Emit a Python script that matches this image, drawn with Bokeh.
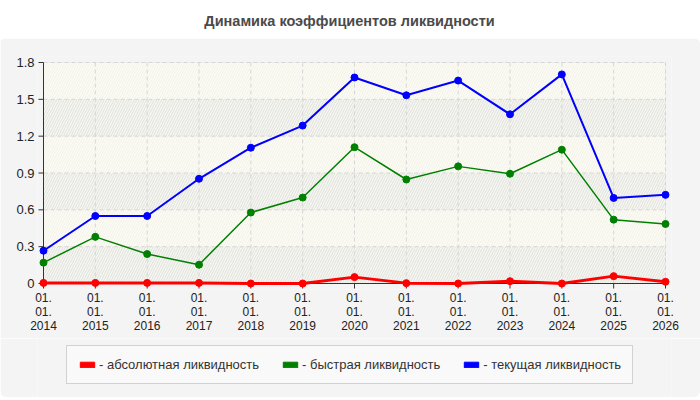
from bokeh.plotting import figure
from bokeh.layouts import column
from bokeh.models import (Range1d, FixedTicker, BoxAnnotation, Label, Legend,
                          LegendItem, ColumnDataSource)
from bokeh.embed import file_html
from bokeh.resources import INLINE

# ---------------- data ----------------
title_text = "Динамика коэффициентов ликвидности"
years = [2014, 2015, 2016, 2017, 2018, 2019, 2020, 2021, 2022, 2023, 2024, 2025, 2026]
x_labels = ["01.\n01.\n2014", "01.\n01.\n2015", "01.\n01.\n2016", "01.\n01.\n2017",
            "01.\n01.\n2018", "01.\n01.\n2019", "01.\n01.\n2020", "01.\n01.\n2021",
            "01.\n01.\n2022", "01.\n01.\n2023", "01.\n01.\n2024", "01.\n01.\n2025",
            "01.\n01.\n2026"]
y_ticks = [0.0, 0.3, 0.6, 0.9, 1.2, 1.5, 1.8]
y_labels = ["0", "0.3", "0.6", "0.9", "1.2", "1.5", "1.8"]

absolute_liq = [0.005, 0.005, 0.005, 0.005, 0.0, 0.0, 0.052, 0.003, 0.0, 0.019, 0.0, 0.06, 0.014]
quick_liq = [0.17, 0.38, 0.24, 0.153, 0.578, 0.70, 1.11, 0.847, 0.954, 0.894, 1.09, 0.52, 0.485]
current_liq = [0.267, 0.55, 0.55, 0.853, 1.106, 1.286, 1.678, 1.533, 1.653, 1.378, 1.703, 0.697, 0.722]

series_names = ["- абсолютная ликвидность", "- быстрая ликвидность", "- текущая ликвидность"]
series_colors = ["#ff0000", "#008000", "#0000ff"]

# ---------------- layout (px) ----------------
FONT = "Liberation Sans"
PANEL_BG = "#f4f4f4"
W = 700
TITLE_H = 38
MAIN_H = 300
LEG_H = 59
PLOT_L, PLOT_R, PLOT_T, PLOT_B = 43, 665, 24, 245   # inside main figure canvas
PAD = 6
TICK = 5
FRAME_X0 = PLOT_L - PAD   # figures in the column share this frame offset

# ---------------- title strip ----------------
tf = figure(width=W, height=TITLE_H, min_border=0, x_axis_location=None,
            y_axis_location=None, toolbar_location=None, output_backend="svg",
            outline_line_color=None, border_fill_color="white",
            background_fill_color="white")
tf.grid.visible = False
tf.add_layout(Label(x=349 - FRAME_X0, y=TITLE_H - 20, x_units="screen", y_units="screen",
                    text=title_text, text_align="center", text_baseline="middle",
                    text_font=FONT, text_font_size="14.5px", text_font_style="bold",
                    text_color="#4a4a4a"))

# ---------------- main chart ----------------
x_lo, x_hi = years[0], years[-1]
y_lo, y_hi = y_ticks[0], y_ticks[-1]
xpp = (x_hi - x_lo) / (PLOT_R - PLOT_L)
ypp = (y_hi - y_lo) / (PLOT_B - PLOT_T)

p = figure(frame_width=PLOT_R - PLOT_L + 2 * PAD, frame_height=PLOT_B - PLOT_T + 2 * PAD,
           min_border_left=PLOT_L - PAD, min_border_right=W - PLOT_R - PAD,
           min_border_top=PLOT_T - PAD, min_border_bottom=MAIN_H - PLOT_B - PAD,
           x_range=Range1d(x_lo - PAD * xpp, x_hi + PAD * xpp),
           y_range=Range1d(y_lo - PAD * ypp, y_hi + PAD * ypp),
           output_backend="svg", toolbar_location=None,
           border_fill_color=PANEL_BG, background_fill_color=PANEL_BG,
           outline_line_color=None,
           styles={"border-radius": "6px 6px 0 0", "overflow": "hidden"})
p.grid.visible = False

# plot area background
area = BoxAnnotation(left=x_lo, right=x_hi, bottom=y_lo, top=y_hi,
                     fill_color="#fcfcf4", fill_alpha=1.0,
                     hatch_pattern="/", hatch_color="#ededE6", hatch_scale=5,
                     hatch_weight=1, hatch_alpha=0.8,
                     line_color="#dddddd", line_width=1, level="image")
p.add_layout(area)

# alternating hatched bands
for b, t in zip(y_ticks[0::2], y_ticks[1::2]):
    band = BoxAnnotation(left=x_lo, right=x_hi, bottom=b, top=t,
                         fill_color="#f1f1ee", fill_alpha=0.45,
                         hatch_pattern="/", hatch_color="#dedede", hatch_scale=5,
                         hatch_weight=1, hatch_alpha=0.85,
                         line_alpha=0, level="image")
    p.add_layout(band)

# grid lines
p.segment(x0=years[1:], y0=[y_lo] * (len(years) - 1), x1=years[1:], y1=[y_hi] * (len(years) - 1),
          line_color="#d6d6d6", line_width=1, line_dash="4 3", level="underlay")
p.segment(x0=[x_lo] * (len(y_ticks) - 1), y0=y_ticks[1:], x1=[x_hi] * (len(y_ticks) - 1), y1=y_ticks[1:],
          line_color="#d6d6d6", line_width=1, line_dash="4 3", level="underlay")

# axis lines and ticks at the data edges
p.segment(x0=[x_lo, x_lo], y0=[y_lo, y_lo], x1=[x_lo, x_hi], y1=[y_hi, y_lo],
          line_color="#333333", line_width=1, level="underlay")
p.segment(x0=years, y0=[y_lo - TICK * ypp] * len(years), x1=years, y1=[y_lo] * len(years),
          line_color="#333333", line_width=1, level="underlay")
p.segment(x0=[x_lo - TICK * xpp] * len(y_ticks), y0=y_ticks, x1=[x_lo] * len(y_ticks), y1=y_ticks,
          line_color="#333333", line_width=1, level="underlay")

# tick labels from the library axes
xa = p.xaxis[0]
xa.ticker = FixedTicker(ticks=years)
xa.major_label_overrides = {yr: lab for yr, lab in zip(years, x_labels)}
ya = p.yaxis[0]
ya.ticker = FixedTicker(ticks=y_ticks)
ya.major_label_overrides = {v: lab for v, lab in zip(y_ticks, y_labels)}
for ax in (xa, ya):
    ax.axis_line_color = None
    ax.major_tick_line_color = None
    ax.minor_tick_line_color = None
    ax.major_tick_out = 0
    ax.major_tick_in = 0
    ax.major_label_text_font = FONT
    ax.major_label_text_color = "#222222"
xa.major_label_text_font_size = "12px"
xa.major_label_text_line_height = 1.0
xa.major_label_standoff = 1
ya.major_label_text_font_size = "13px"
ya.major_label_standoff = 3

# series
widths = [3, 1.5, 2]
for vals, col, w in zip([absolute_liq, quick_liq, current_liq], series_colors, widths):
    p.line(years, vals, line_color=col, line_width=w)
    p.scatter(years, vals, size=7, fill_color=col, line_color=col)

# ---------------- legend strip ----------------
lf = figure(width=W, height=LEG_H, min_border=0, x_axis_location=None,
            y_axis_location=None, toolbar_location=None, output_backend="svg",
            outline_line_color=None, border_fill_color=PANEL_BG,
            background_fill_color=PANEL_BG,
            x_range=Range1d(0, 1), y_range=Range1d(0, 1),
            styles={"border-radius": "0 0 6px 6px", "overflow": "hidden"})
lf.grid.visible = False
nan = float("nan")
swatch_src = ColumnDataSource(data=dict(l=[nan], r=[nan], b=[nan], t=[nan]))
items = []
for name, col in zip(series_names, series_colors):
    rr = lf.quad(left="l", right="r", bottom="b", top="t", source=swatch_src,
                 fill_color=col, line_color=col)
    items.append(LegendItem(label=name, renderers=[rr]))
legend = Legend(items=items, orientation="horizontal",
                location=(66 - FRAME_X0, LEG_H - 46),
                margin=0, padding=11, spacing=22, glyph_width=18, glyph_height=7,
                label_standoff=3, label_height=14,
                label_text_font=FONT, label_text_font_size="13px",
                label_text_color="#333333",
                background_fill_color="#f9f9f9", background_fill_alpha=1.0,
                border_line_color="#aaaaaa", border_line_width=1)
lf.add_layout(legend)

layout = column(tf, p, lf)
open("out.html", "w").write(file_html(layout, INLINE))
